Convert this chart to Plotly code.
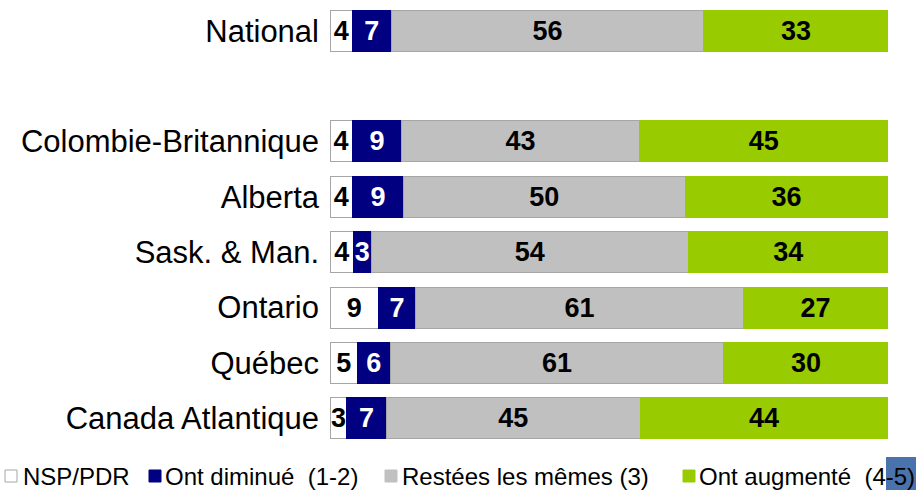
import plotly.graph_objects as go

# ---- data ----
regions = ["National", "Colombie-Britannique", "Alberta", "Sask. & Man.",
           "Ontario", "Québec", "Canada Atlantique"]
nsp_pdr = [4, 4, 4, 4, 9, 5, 3]
ont_diminue = [7, 9, 9, 3, 7, 6, 7]
restees_memes = [56, 43, 50, 54, 61, 61, 45]
ont_augmente = [33, 45, 36, 34, 27, 30, 44]
series_names = ["NSP/PDR", "Ont diminué  (1-2)", "Restées les mêmes (3)", "Ont augmenté  (4-5)"]

# ---- style ----
fill_colors = ["#FFFFFF", "#000080", "#C0C0C0", "#99CC00"]
line_colors = ["#A6A6A6", "#000080", "#A6A6A6", "#99CC00"]
label_colors = ["#000000", "#FFFFFF", "#000000", "#000000"]
FONT = "Liberation Sans, Arial, sans-serif"

W, H = 916, 490
ML, MR, MT, MB = 330, 28, 3, 44
PW, PH = W - ML - MR, H - MT - MB

# slots from top to bottom, with an empty slot separating National
slots = ["National", "", "Colombie-Britannique", "Alberta", "Sask. & Man.",
         "Ontario", "Québec", "Canada Atlantique"]
ypos = [len(slots) - 1 - slots.index(r) for r in regions]

fig = go.Figure()
for name, vals, fc, lc, tc in zip(series_names,
                                  [nsp_pdr, ont_diminue, restees_memes, ont_augmente],
                                  fill_colors, line_colors, label_colors):
    fig.add_trace(go.Bar(
        y=ypos, x=vals, orientation="h", name=name,
        marker=dict(color=fc, line=dict(color=lc, width=1)),
        width=0.74,
        text=[str(v) for v in vals], textposition="inside",
        insidetextanchor="middle", textangle=0, constraintext="none",
        textfont=dict(family=FONT, size=27, color=tc, weight="bold"),
        hoverinfo="skip", showlegend=False,
    ))


def px_x(px):
    return (px - ML) / PW


def px_y(py):
    return (H - MB - py) / PH


# legend (drawn manually to match spacing)
leg_sq_x = [5, 149, 385, 683]
leg_txt_x = [21, 163, 400, 697]
leg_y = 476
shapes = [dict(type="rect", xref="paper", yref="paper", layer="below",
               x0=px_x(886), x1=px_x(920), y0=px_y(492), y1=px_y(457),
               fillcolor="#4A72AC", line=dict(width=0))]
annotations = []
for name, fc, lc, sx, tx in zip(series_names, fill_colors, line_colors, leg_sq_x, leg_txt_x):
    shapes.append(dict(type="rect", xref="paper", yref="paper",
                       xsizemode="pixel", ysizemode="pixel",
                       xanchor=px_x(sx), yanchor=px_y(leg_y),
                       x0=0, x1=12, y0=-6, y1=6,
                       fillcolor=fc, line=dict(color="#A6A6A6" if fc == "#FFFFFF" else fc, width=1)))
    annotations.append(dict(xref="paper", yref="paper", x=px_x(tx), y=px_y(leg_y),
                            xanchor="left", yanchor="middle", showarrow=False,
                            text=name.replace("  ", " \u00a0"),
                            font=dict(family=FONT, size=24, color="#000000")))

fig.update_layout(
    width=W, height=H,
    margin=dict(l=ML, r=MR, t=MT, b=MB),
    barmode="stack", barnorm="percent",
    paper_bgcolor="white", plot_bgcolor="white",
    shapes=shapes, annotations=annotations,
    showlegend=False,
    xaxis=dict(range=[0, 100], visible=False, fixedrange=True),
    yaxis=dict(range=[-0.5, len(slots) - 0.5],
               tickvals=ypos, ticktext=regions,
               showgrid=False, zeroline=False, showline=False,
               ticks="", ticklabelstandoff=10, fixedrange=True,
               tickfont=dict(family=FONT, size=31, color="#000000")),
)

fig.write_html("out.html", config={"displayModeBar": False},
               post_script="document.body.style.margin='0';document.body.style.overflow='hidden';")
